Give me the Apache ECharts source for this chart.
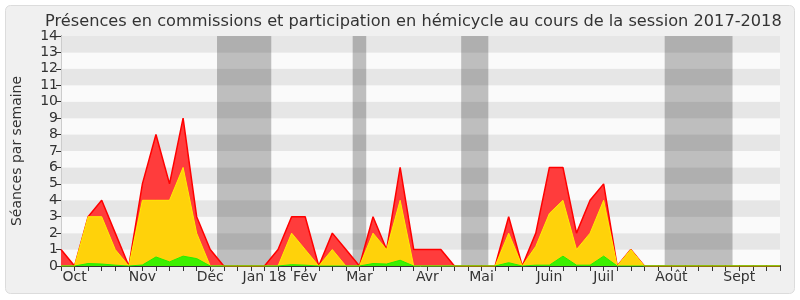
<!DOCTYPE html>
<html>
<head>
<meta charset="utf-8">
<script src="https://cdn.jsdelivr.net/npm/echarts@6/dist/echarts.min.js"></script>
<style>html,body{margin:0;padding:0;background:#fff;}#c{width:800px;height:300px;}</style>
</head>
<body>
<div id="c"></div>
<script>
// Weekly values (week index 0..53), totals of each stacked layer
const weeks = Array.from({length: 54}, (_, i) => i);
const redTotal = [1,0,3,4,2,0,5,8,5,9,3,1,0,0,0,0,1,3,3,0,2,1,0,3,1,6,1,1,1,0,0,0,0,3,0,2,6,6,2,4,5,0,1,0,0,0,0,0,0,0,0,0,0,0];
const yellowTotal = [0,0,3,3,1,0,4,4,4,6,2,0,0,0,0,0,0,2,1,0,1,0,0,2,1,4,0,0,0,0,0,0,0,2,0,1.2,3.2,4,1,2,4,0,1,0,0,0,0,0,0,0,0,0,0,0];
const greenTotal = [0,0,0.15,0.12,0.05,0,0.06,0.55,0.25,0.6,0.45,0,0,0,0,0,0,0.08,0.05,0,0,0,0,0.15,0.12,0.35,0,0,0,0,0,0,0,0.2,0,0.05,0.05,0.6,0.05,0.05,0.6,0,0,0,0,0,0,0,0,0,0,0,0,0];
const monthLabels = ['Oct','Nov','Déc','Jan 18','Fév','Mar','Avr','Mai','Juin','Juil','Août','Sept'];
const monthWeekIdx = [1,6,11,15,18,22,27,31,36,40,45,50];
const vacations = [[11.5,15.5],[21.5,22.5],[29.5,31.5],[44.5,49.5]];
const yTicks = [0,14,1];

const labelMap = {};
monthWeekIdx.forEach((w, k) => { labelMap[w] = monthLabels[k]; });
const pairs = arr => weeks.map(i => [i, arr[i]]);
const font = 'DejaVu Sans';

const chart = echarts.init(document.getElementById('c'), null, {renderer: 'canvas'});
chart.setOption({
  backgroundColor: '#ffffff',
  animation: false,
  textStyle: {fontFamily: font},
  graphic: [{
    type: 'rect', z: -100, silent: true,
    shape: {x: 5.5, y: 5.5, width: 789, height: 288, r: 5},
    style: {fill: '#f0f0f0', stroke: '#dcdcdc', lineWidth: 1}
  }],
  title: {
    text: 'Présences en commissions et participation en hémicycle au cours de la session 2017-2018',
    left: 40, top: 9,
    textStyle: {fontFamily: font, fontSize: 16.2, fontWeight: 'normal', color: '#333'}
  },
  grid: {left: 61, right: 20, top: 36, bottom: 34},
  xAxis: [{
    type: 'value', min: 0, max: 53, interval: 1,
    axisLine: {show: true, lineStyle: {color: '#333', width: 1}},
    axisTick: {show: true, length: 5, lineStyle: {color: '#333'}},
    axisLabel: {show: true, fontFamily: font, fontSize: 14, color: '#333', margin: 4,
      formatter: v => labelMap[v] || '', showMinLabel: true, showMaxLabel: true, hideOverlap: false},
    splitLine: {show: false}
  }, {
    type: 'value', min: 0, max: 53, interval: 1, position: 'top',
    axisLine: {show: false},
    axisTick: {show: true, length: 1, lineStyle: {color: '#555'}},
    axisLabel: {show: false}, splitLine: {show: false}
  }],
  yAxis: [{
    type: 'value', min: yTicks[0], max: yTicks[1], interval: yTicks[2],
    name: 'Séances par semaine', nameLocation: 'middle', nameGap: 37,
    nameTextStyle: {fontFamily: font, fontSize: 14, color: '#333'},
    axisLine: {show: true, lineStyle: {color: '#333'}},
    axisTick: {show: true, length: 5, lineStyle: {color: '#333'}},
    axisLabel: {fontFamily: font, fontSize: 14, color: '#333', margin: 3},
    splitLine: {show: false},
    splitArea: {show: true, areaStyle: {color: ['#fafafa', '#e6e6e6']}}
  }, {
    type: 'value', min: yTicks[0], max: yTicks[1], interval: yTicks[2], position: 'right',
    axisLine: {show: true, lineStyle: {color: '#cccccc'}},
    axisTick: {show: false}, axisLabel: {show: false}, splitLine: {show: false}
  }],
  series: [{
    type: 'line', name: 'rouge', data: pairs(redTotal), symbol: 'none', z: 2,
    lineStyle: {color: '#ff0000', width: 1.5},
    areaStyle: {color: '#ff3c3c', opacity: 1}
  }, {
    type: 'line', name: 'jaune', data: pairs(yellowTotal), symbol: 'none', z: 3,
    lineStyle: {color: '#ffee00', width: 1},
    areaStyle: {color: '#ffd20a', opacity: 1}
  }, {
    type: 'line', name: 'vert', data: pairs(greenTotal), symbol: 'none', z: 4,
    lineStyle: {color: '#22ee00', width: 1},
    areaStyle: {color: '#3cf000', opacity: 1}
  }, {
    type: 'line', name: 'vacances', data: [], z: 10, symbol: 'none',
    markArea: {silent: true, itemStyle: {color: 'rgba(0,0,0,0.24)'},
      data: vacations.map(v => [{xAxis: v[0]}, {xAxis: v[1]}])}
  }]
});
</script>
</body>
</html>
